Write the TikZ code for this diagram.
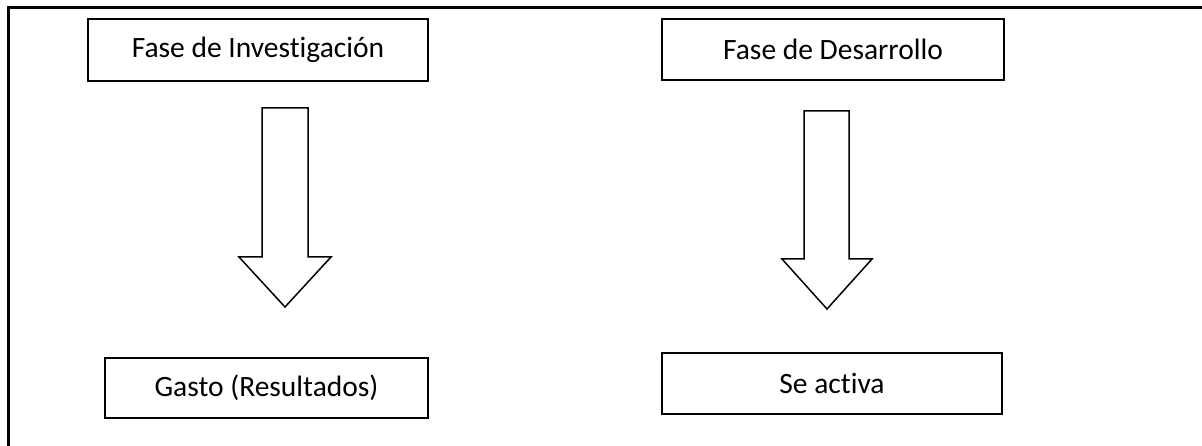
\documentclass[tikz,border=0pt]{standalone}
\usepackage{fontspec}
\setmainfont[Ligatures={NoCommon}]{Carlito}
\begin{document}
\begin{tikzpicture}[x=1pt,y=-1pt,
  box/.style={draw=black,line width=1.5pt,minimum width=#1,inner sep=0pt,
    font=\fontsize{29.5}{34}\selectfont},
  bigarrow/.style={draw=black,line width=1.5pt,line join=miter,fill=white}]
\useasboundingbox (0,0) rectangle (1202,446);
% outer frame (left and top sides)
\draw[line width=3pt] (8,446) -- (8,8) -- (1202,8);
% boxes
\node[box=340pt,minimum height=62pt] (inv) at (258,50) {Fase de Investigación};
\node[box=342pt,minimum height=61pt] (des) at (833,49.5) {Fase de Desarrollo};
\node[box=323pt,minimum height=60pt] (gas) at (266.5,388) {Gasto (Resultados)};
\node[box=340pt,minimum height=61pt] (act) at (832,383.5) {Se activa};
% block arrows
\draw[bigarrow] (262,108) -- (308,108) -- (308,257) -- (331,257) -- (285,307)
  -- (239,257) -- (262,257) -- cycle;
\draw[bigarrow] (804,111) -- (849,111) -- (849,259) -- (872,259) -- (827,309)
  -- (782,259) -- (804,259) -- cycle;
\end{tikzpicture}
\end{document}
